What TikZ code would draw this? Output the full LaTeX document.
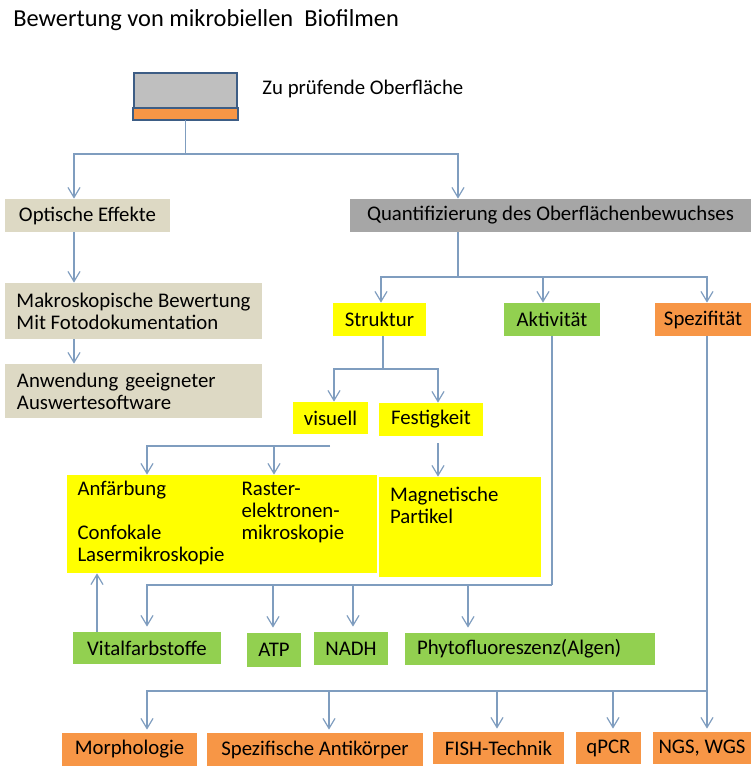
\documentclass[tikz,border=0pt]{standalone}
\usepackage{fontspec}
\setmainfont{Carlito}
\usetikzlibrary{arrows.meta}

\definecolor{lnblue}{HTML}{7F9DBF}
\definecolor{surfgrey}{HTML}{BFBFBF}
\definecolor{surfedge}{HTML}{3D5D85}
\definecolor{beige}{HTML}{DDD9C4}
\definecolor{quantgrey}{HTML}{A6A6A6}
\definecolor{yel}{HTML}{FFFF00}
\definecolor{grn}{HTML}{92D050}
\definecolor{org}{HTML}{F79646}

\newcommand\boxfont{\fontsize{10.4}{11}\selectfont}

\tikzset{
  box/.style={rectangle, inner sep=0pt, align=center, font=\boxfont},
  bx/.style 2 args={minimum width=#1*0.5pt, minimum height=#2*0.5pt},
  ln/.style={draw=lnblue, line width=0.6pt},
  arr/.style={ln, -{Straight Barb[length=5pt,width=6pt]}},
}

\begin{document}
\begin{tikzpicture}[x=0.5pt, y=-0.5pt]
  \useasboundingbox (0,0) rectangle (751,767);
  % title and surface
  \node[anchor=west, inner sep=0pt, font=\fontsize{12.2}{14}\selectfont] (title) at (13,20) {Bewertung von mikrobiellen~ Biofilmen};
  \node[box, bx={103}{46}, fill=surfgrey, draw=surfedge, line width=1pt] (surf) at (185.5,96) {};
  \draw[surfedge, line width=1pt, fill=org] (surf.south west) rectangle ([yshift=6pt]surf.south east);
  \node[anchor=west, inner sep=0pt, font=\boxfont] (surf-lbl) at (262,89) {Zu prüfende Oberfläche};

  % left column
  \node[box, bx={165}{33}, fill=beige] (opt) at (87.5,215.5) {Optische Effekte};
  \node[box, bx={257}{56}, fill=beige, align=left] (makro) at (133.5,311) {Makroskopische Bewertung\\Mit Fotodokumentation};
  \node[box, bx={257}{54}, fill=beige, text width=116.5pt, inner xsep=6pt, align=left] (anw) at (133.5,391) {Anwendung geeigneter\\Auswertesoftware};

  % quantification
  \node[box, bx={401}{33}, fill=quantgrey] (quant) at (550.5,215.5) {Quantifizierung des Oberflächenbewuchses};
  \node[box, bx={93}{33}, fill=yel] (struk) at (379.5,319.5) {Struktur};
  \node[box, bx={96}{33}, fill=grn] (akt) at (552,319.5) {Aktivität};
  \node[box, bx={96}{33}, fill=org] (spez) at (703,319.5) {Spezifität};
  \node[box, bx={75}{32}, fill=yel] (vis) at (330.5,418) {visuell};
  \node[box, bx={104}{33}, fill=yel] (fest) at (431,419.5) {Festigkeit};

  % yellow methods
  \node[box, bx={310}{98}, fill=yel, text width=144pt, inner xsep=5.5pt, align=left] (mikro) at (221.5,524)
    {\begin{tabular}{@{}p{82pt}@{}l@{}}
      Anfärbung & Raster-\\
       & elektronen-\\
      Confokale & mikroskopie\\
      Lasermikroskopie &
    \end{tabular}};
  \node[box, bx={162}{100}, fill=yel] (mag) at (460,527) {};
  \node[anchor=north west, inner sep=0pt, align=left, font=\boxfont] (mag-txt) at ([shift={(11,10)}]mag.north west) {Magnetische\\Partikel};

  % green methods
  \node[box, bx={148}{32}, fill=grn] (vit) at (147,648) {Vitalfarbstoffe};
  \node[box, bx={54}{34}, fill=grn] (atp) at (274,650) {ATP};
  \node[box, bx={74}{33}, fill=grn] (nadh) at (351,648.5) {NADH};
  \node[box, bx={250}{32}, fill=grn, text width=113pt, inner xsep=6pt, align=left] (phyto) at (530,649) {Phytofluoreszenz(Algen)};

  % orange methods
  \node[box, bx={135}{33}, fill=org] (morph) at (129.5,749.5) {Morphologie};
  \node[box, bx={216}{33}, fill=org] (antik) at (315,749.5) {Spezifische Antikörper};
  \node[box, bx={131}{32}, fill=org] (fish) at (498.5,748) {FISH-Technik};
  \node[box, bx={65}{32}, fill=org] (qpcr) at (608.5,748) {qPCR};
  \node[box, bx={98}{32}, fill=org] (ngs) at (702,748) {NGS, WGS};

  % connectors
  \draw[ln] (surf.south) -- (surf.south |- 0,154) coordinate (j-top);
  \draw[arr] (j-top) -| (74,0 |- opt.north);
  \draw[arr] (j-top) -| (458,0 |- quant.north);
  \draw[arr] (74,0 |- opt.south) -- (74,0 |- makro.north);
  \draw[arr] (74,0 |- makro.south) -- (74,0 |- anw.north);

  \draw[ln] (458,0 |- quant.south) -- (458,277) coordinate (j-quant);
  \draw[arr] (j-quant) -| (381,0 |- struk.north);
  \draw[arr] (j-quant) -| (543,0 |- akt.north);
  \draw[arr] (j-quant) -| (707,0 |- spez.north);

  \draw[ln] (383,0 |- struk.south) -- (383,369) coordinate (j-struk);
  \draw[arr] (j-struk) -| (334,0 |- vis.north);
  \draw[arr] (j-struk) -| (438,0 |- fest.north);

  \coordinate (j-vis) at (330,446);
  \draw[arr] (j-vis) -| (147,0 |- mikro.north);
  \draw[arr] (274,0 |- j-vis) -- (274,0 |- mikro.north);
  \draw[arr, shorten <=3.5pt] (438,0 |- fest.south) -- (438,0 |- mag.north);

  \draw[ln] (akt.south) -- (akt.south |- 0,585) coordinate (j-akt);
  \draw[arr, shorten >=2.5pt] (j-akt) -| (147,0 |- vit.north);
  \foreach \xa/\tgt in {273/atp, 353/nadh, 468/phyto}
    \draw[arr, shorten >=2.5pt] (\xa,0 |- j-akt) -- (\xa,0 |- \tgt.north);
  \draw[arr] (97,0 |- vit.north) -- (97,0 |- mikro.south);

  \draw[arr, shorten >=1.5pt] (707,0 |- spez.south) -- (707,0 |- ngs.north);
  \coordinate (j-spez) at (707,691);
  \draw[arr, shorten >=1.5pt] (j-spez) -| (147,0 |- morph.north);
  \foreach \xa/\tgt in {329/antik, 497/fish, 613/qpcr}
    \draw[arr, shorten >=1.5pt] (\xa,0 |- j-spez) -- (\xa,0 |- \tgt.north);
\end{tikzpicture}
\end{document}
